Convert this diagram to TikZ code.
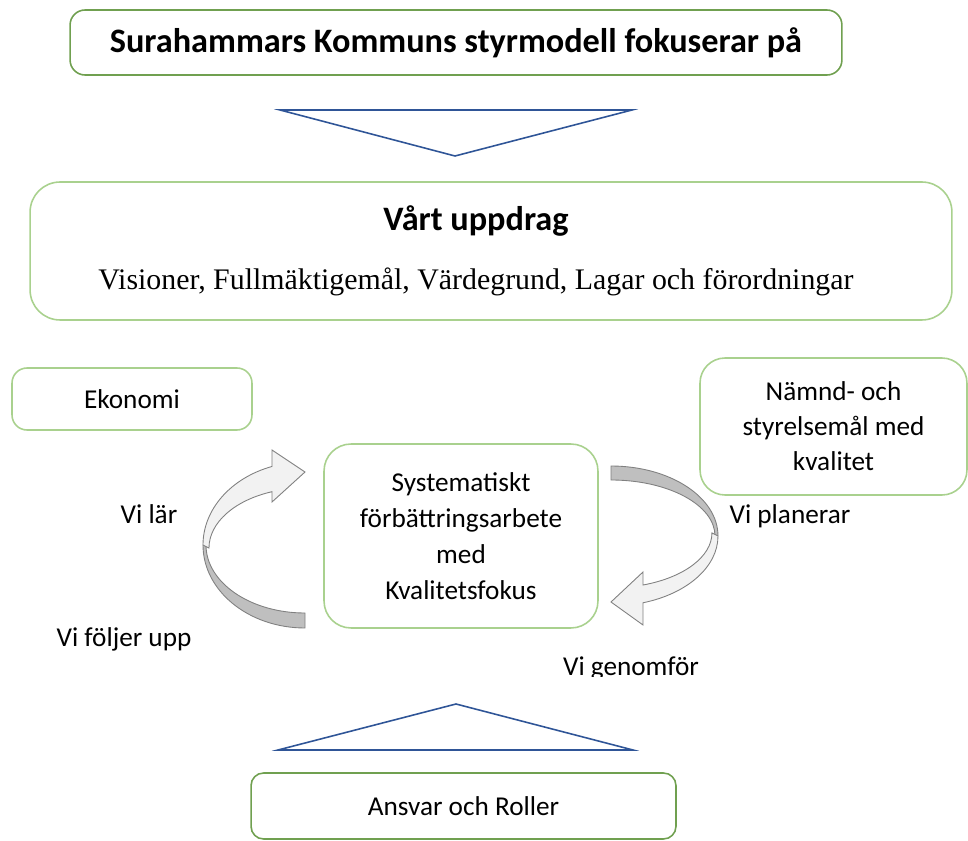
\documentclass[tikz,border=0pt]{standalone}
\usepackage{fontspec}
\setmainfont{Carlito}
\newfontfamily\timesfont{Liberation Serif}
\usetikzlibrary{arrows.meta, positioning}
\definecolor{darkgreen}{RGB}{112,160,80}
\definecolor{lightgreen}{RGB}{169,209,142}
\definecolor{triblue}{RGB}{47,85,151}
\definecolor{backgray}{RGB}{191,191,191}
\definecolor{frontgray}{RGB}{242,242,242}
\definecolor{edgegray}{RGB}{128,128,128}

\begin{document}
\begin{tikzpicture}[x=0.02cm, y=-0.02cm,
  darkbox/.style={draw=darkgreen, line width=0.9pt, rounded corners=0.3cm, align=center},
  lightbox/.style={draw=lightgreen, line width=0.9pt, align=center},
  lbl/.style={font=\fontsize{15.5}{20}\selectfont},
  headtext/.style={font=\bfseries\fontsize{19.5}{24}\selectfont},
  arrowback/.style={draw=edgegray, line width=0.5pt, fill=backgray},
  arrowfront/.style={draw=edgegray, line width=0.5pt, fill=frontgray}]

\useasboundingbox (0,0) rectangle (968,841);

% Draw top box
\node[darkbox, headtext, minimum width=15.44cm, minimum height=1.3cm] (styrmodell) at (456,42.5) {Surahammars Kommuns styrmodell fokuserar på};

% Draw down triangle
\draw[triblue, line width=0.9pt] (280,110) -- (632,110) -- (455,156) -- cycle;

% Draw mission box
\node[lightbox, rounded corners=0.6cm, minimum width=18.44cm, minimum height=2.76cm] (uppdrag) at (491,251) {};
\node[headtext, anchor=base] (uppdragtitel) at (476,231) {Vårt uppdrag};
\node[font=\timesfont\fontsize{17}{20}\selectfont, anchor=base] (uppdragtext) at (476,290) {Visioner, Fullmäktigemål, Värdegrund, Lagar och förordningar};

% Draw side boxes
\node[lightbox, lbl, rounded corners=0.3cm, minimum width=4.8cm, minimum height=1.24cm] (ekonomi) at (132,399) {Ekonomi};
\node[lightbox, lbl, rounded corners=0.5cm, minimum width=5.34cm, minimum height=2.74cm] (namndmal) at (833.5,426.5) {Nämnd- och\\styrelsemål med\\kvalitet};

% Draw center box
\node[lightbox, font=\fontsize{15.5}{20.5}\selectfont, rounded corners=0.54cm, minimum width=5.48cm, minimum height=3.68cm] (kvalitet) at (461,536) {Systematiskt\\förbättringsarbete\\med\\Kvalitetsfokus};

% Draw left curved arrow
\draw[arrowback] (305,628) arc[start angle=90, end angle=180, x radius=102, y radius=83] -- (206,545) arc[start angle=180, end angle=90, x radius=99, y radius=68] -- cycle;
\draw[arrowfront] (203,545) arc[start angle=180, end angle=251.1, x radius=102, y radius=83] -- (272,450) -- (305,472) -- (272,502) -- (272,491.7) arc[start angle=249.9, end angle=180, x radius=96, y radius=60] -- cycle;

% Draw right curved arrow
\draw[arrowback] (611,466) arc[start angle=270, end angle=360, x radius=107, y radius=70] -- (715,536) arc[start angle=360, end angle=270, x radius=104, y radius=56] -- cycle;
\draw[arrowfront] (718,536) arc[start angle=0, end angle=72.6, x radius=107, y radius=70] -- (643,625) -- (611,602) -- (643,572) -- (643,585) arc[start angle=71.5, end angle=0, x radius=101, y radius=55] -- cycle;

% Draw cycle labels
\node[lbl, anchor=base] (vilar) at (149,523) {Vi lär};
\node[lbl, anchor=base] (vifoljer) at (124,646) {Vi följer upp};
\node[lbl, anchor=base] (viplanerar) at (790,523) {Vi planerar};
\begin{scope}
\clip (540,640) rectangle (720,676.5);
\node[lbl, anchor=base] (vigenomfor) at (631,675) {Vi genomför};
\end{scope}

% Draw up triangle
\draw[triblue, line width=0.9pt] (278,750) -- (633,750) -- (456,704) -- cycle;

% Draw bottom box
\node[darkbox, lbl, rounded corners=0.25cm, minimum width=8.5cm, minimum height=1.32cm] (ansvar) at (463.5,806) {Ansvar och Roller};

\end{tikzpicture}
\end{document}
